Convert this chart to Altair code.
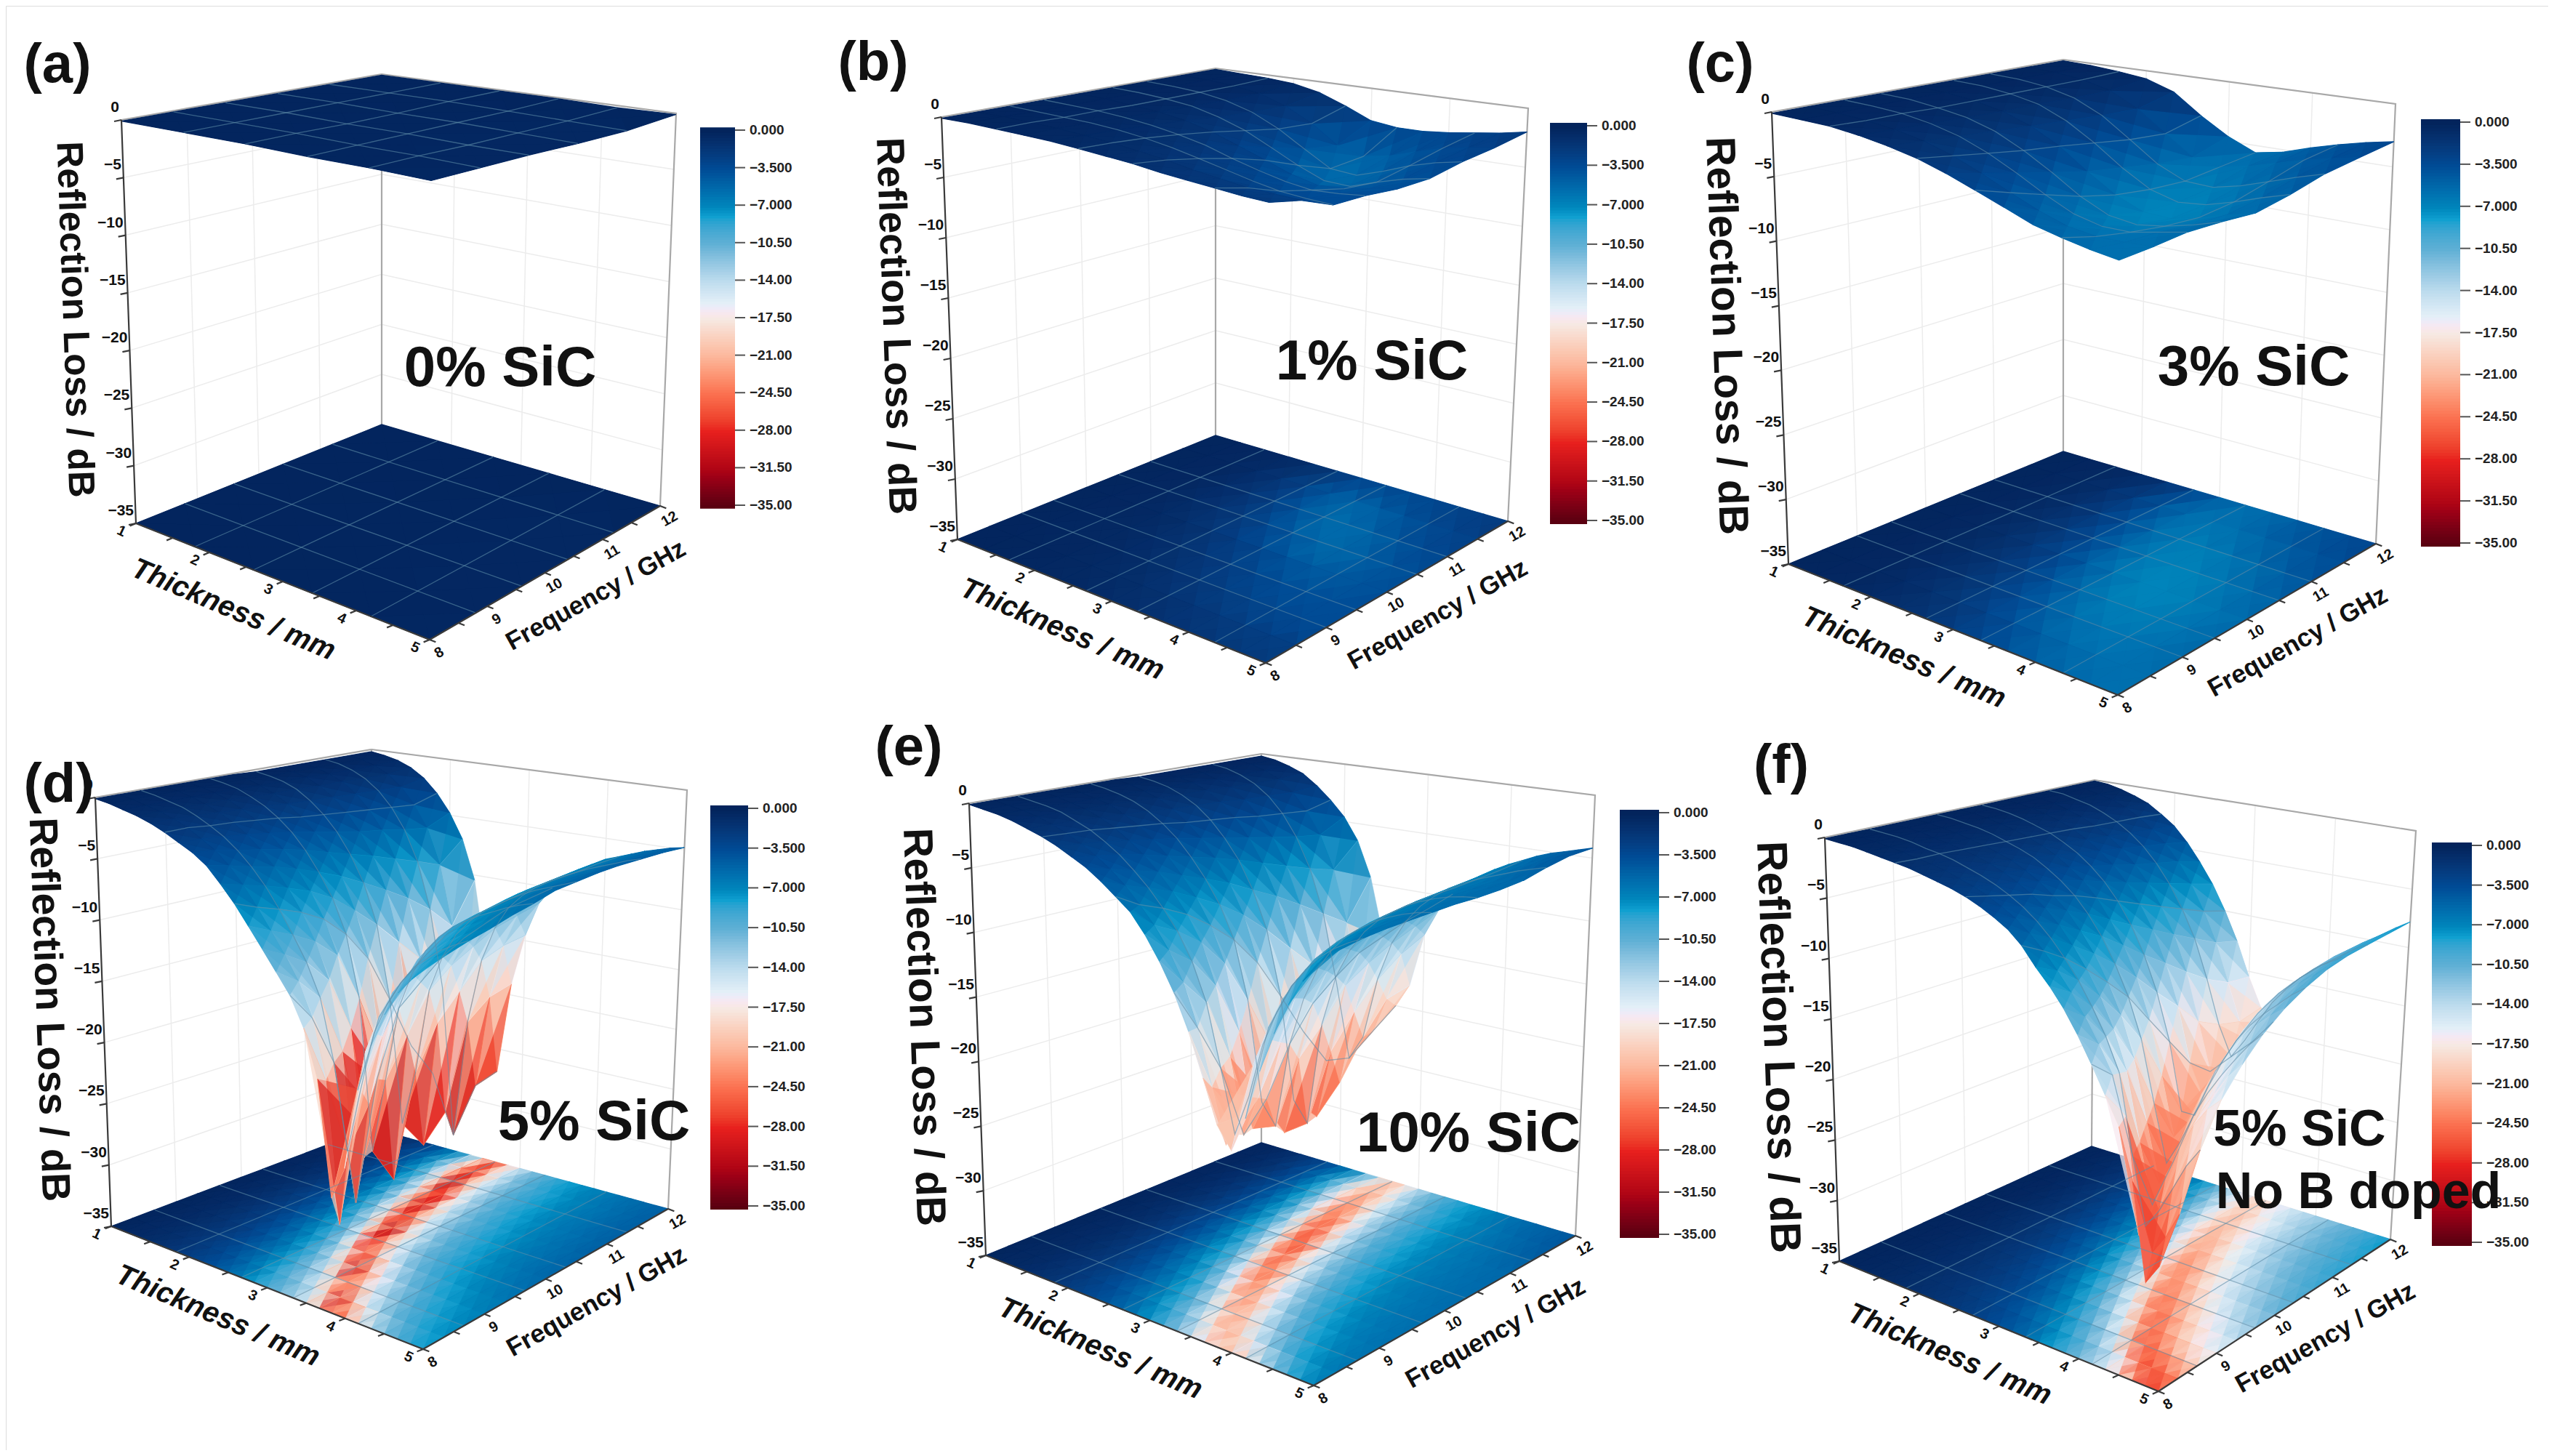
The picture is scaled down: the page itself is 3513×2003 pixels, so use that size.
import altair as alt

alt.data_transformers.disable_max_rows()

# ---------- values ----------
thickness_a = [1, 1.8, 2.6, 3.4, 4.2, 5]
freq_a = [8, 8.8, 9.6, 10.4, 11.2, 12]
RL_a = [
    [-0.1, -0.1, -0.1, -0.2, -0.2, -0.3],
    [-0.1, -0.1, -0.1, -0.2, -0.2, -0.3],
    [-0.1, -0.1, -0.2, -0.2, -0.3, -0.3],
    [-0.1, -0.1, -0.2, -0.2, -0.3, -0.4],
    [-0.1, -0.1, -0.1, -0.2, -0.3, -0.4],
    [-0.1, -0.1, -0.1, -0.1, -0.2, -0.1],
]

thickness_mid = [1, 1.333, 1.667, 2, 2.333, 2.667, 3, 3.333, 3.667, 4, 4.333, 4.667, 5]
freq_mid = [8, 8.5, 9, 9.5, 10, 10.5, 11, 11.5, 12]
RL_b = [
    [-0.1, -0.1, -0.2, -0.3, -0.4, -0.6, -0.8, -1.0, -1.3, -1.5, -1.7, -1.9, -2.0],
    [-0.1, -0.1, -0.2, -0.3, -0.5, -0.7, -1.0, -1.3, -1.7, -2.0, -2.3, -2.4, -2.5],
    [-0.1, -0.2, -0.3, -0.4, -0.6, -0.9, -1.3, -1.8, -2.3, -2.8, -3.2, -3.4, -3.5],
    [-0.1, -0.2, -0.3, -0.5, -0.8, -1.2, -1.7, -2.4, -3.0, -3.5, -3.8, -3.7, -3.5],
    [-0.1, -0.2, -0.4, -0.6, -1.0, -1.6, -2.4, -3.2, -4.0, -4.5, -4.4, -4.0, -3.7],
    [-0.1, -0.2, -0.4, -0.7, -1.3, -2.1, -3.2, -4.3, -5.2, -5.3, -4.6, -4.0, -3.6],
    [-0.1, -0.2, -0.4, -0.8, -1.5, -2.6, -4.0, -5.3, -5.5, -4.8, -4.0, -3.4, -3.0],
    [-0.1, -0.2, -0.4, -0.8, -1.6, -2.8, -4.4, -5.0, -4.6, -3.9, -3.3, -2.9, -2.6],
    [-0.1, -0.2, -0.3, -0.5, -1.0, -1.9, -2.9, -3.2, -3.2, -3.0, -2.7, -2.4, -2.0],
]
RL_c = [
    [-0.1, -0.2, -0.3, -0.6, -1.0, -1.5, -2.2, -3.0, -3.8, -4.6, -5.1, -5.5, -5.8],
    [-0.1, -0.2, -0.4, -0.7, -1.2, -1.9, -2.8, -3.8, -4.7, -5.4, -5.7, -5.7, -5.6],
    [-0.1, -0.2, -0.4, -0.8, -1.4, -2.3, -3.4, -4.6, -5.6, -6.1, -6.1, -5.7, -5.3],
    [-0.1, -0.2, -0.5, -0.9, -1.6, -2.7, -4.0, -5.4, -6.4, -6.7, -6.4, -5.9, -5.3],
    [-0.1, -0.2, -0.5, -1.0, -1.8, -3.0, -4.6, -6.0, -6.9, -7.0, -6.5, -5.9, -5.4],
    [-0.1, -0.2, -0.5, -1.0, -2.0, -3.4, -5.0, -6.3, -6.9, -6.7, -6.1, -5.4, -4.8],
    [-0.1, -0.2, -0.5, -1.1, -2.2, -3.8, -5.4, -6.4, -6.5, -6.0, -5.3, -4.6, -4.0],
    [-0.1, -0.2, -0.5, -1.1, -2.3, -4.0, -5.6, -6.0, -5.6, -5.0, -4.4, -3.9, -3.5],
    [-0.1, -0.2, -0.4, -0.7, -1.5, -3.2, -4.6, -5.6, -5.2, -4.5, -3.9, -3.4, -3.0],
]

thickness_fine = [1, 1.167, 1.333, 1.5, 1.667, 1.833, 2, 2.167, 2.333, 2.5, 2.667, 2.833, 3,
                  3.167, 3.333, 3.5, 3.667, 3.833, 4, 4.167, 4.333, 4.5, 4.667, 4.833, 5]
freq_fine = [8, 8.333, 8.667, 9, 9.333, 9.667, 10, 10.333, 10.667, 11, 11.333, 11.667, 12]
RL_d = [
    [-0.1,-0.3,-0.6,-0.9,-1.3, -1.8,-2.4,-3.0,-3.8,-5.0, -6.3,-7.8,-9.3,-10.8,-12.3, -14.5,-18.0,-26.5,-24.0,-18.0, -14.5,-12.0,-10.2,-9.0,-8.0],
    [-0.1,-0.3,-0.6,-0.9,-1.3, -1.8,-2.5,-3.2,-4.2,-5.5, -7.0,-8.6,-10.2,-12.0,-14.5, -19.0,-29.5,-21.0,-16.0,-13.2, -11.2,-9.8,-8.8,-8.0,-7.5],
    [-0.1,-0.3,-0.6,-0.9,-1.4, -2.0,-2.7,-3.6,-4.7,-6.0, -7.6,-9.4,-11.3,-13.8,-18.5, -25.0,-20.0,-15.5,-13.0,-11.2, -9.8,-8.9,-8.1,-7.5,-7.0],
    [-0.1,-0.3,-0.6,-1.0,-1.5, -2.1,-2.9,-3.9,-5.1,-6.6, -8.3,-10.4,-13.2,-18.5,-30.0, -22.0,-16.5,-13.3,-11.3,-9.9, -8.9,-8.1,-7.5,-7.0,-6.6],
    [-0.1,-0.3,-0.6,-1.0,-1.6, -2.3,-3.2,-4.3,-5.7,-7.3, -9.3,-12.0,-17.5,-27.5,-21.0, -16.0,-13.0,-11.0,-9.7,-8.7, -8.0,-7.4,-6.9,-6.5,-6.1],
    [-0.1,-0.3,-0.6,-1.1,-1.7, -2.5,-3.5,-4.8,-6.4,-8.3, -11.0,-16.0,-28.0,-22.0,-16.0, -13.0,-11.0,-9.7,-8.7,-8.0, -7.4,-6.9,-6.4,-6.0,-5.7],
    [-0.1,-0.3,-0.7,-1.2,-1.9, -2.8,-3.9,-5.4,-7.2,-9.8, -13.5,-21.0,-31.0,-19.0,-14.5, -12.0,-10.3,-9.2,-8.3,-7.6, -7.0,-6.5,-6.0,-5.6,-5.2],
    [-0.2,-0.4,-0.7,-1.2,-2.0, -3.0,-4.3,-6.0,-8.2,-11.5, -17.5,-27.5,-23.0,-16.0,-13.0, -11.0,-9.7,-8.7,-8.0,-7.3, -6.7,-6.2,-5.8,-5.4,-5.0],
    [-0.2,-0.4,-0.7,-1.3,-2.1, -3.2,-4.7,-6.6,-9.3,-13.5, -22.0,-30.0,-19.5,-14.5,-12.0, -10.3,-9.2,-8.3,-7.6,-7.0, -6.5,-6.0,-5.6,-5.2,-4.8],
    [-0.2,-0.4,-0.8,-1.3,-2.2, -3.4,-5.0,-7.3,-10.5,-15.5, -25.0,-28.0,-17.5,-13.5,-11.3, -9.8,-8.8,-8.0,-7.4,-6.8, -6.3,-5.9,-5.5,-5.1,-4.7],
    [-0.2,-0.4,-0.8,-1.4,-2.3, -3.6,-5.4,-8.0,-12.0,-18.5, -31.0,-21.0,-15.5,-12.5,-10.6, -9.4,-8.5,-7.8,-7.2,-6.7, -6.2,-5.8,-5.4,-5.0,-4.7],
    [-0.2,-0.4,-0.8,-1.4,-2.4, -3.8,-5.7,-8.8,-14.0,-21.5, -27.5,-19.5,-14.8,-12.0,-10.3, -9.1,-8.3,-7.6,-7.0,-6.5, -6.1,-5.7,-5.3,-5.0,-4.7],
    [-0.2,-0.4,-0.7,-1.2,-2.0, -3.2,-4.8,-7.0,-10.5,-17.5, -27.0,-19.0,-14.5,-11.5,-10.0, -8.8,-8.0,-7.4,-6.8,-6.4, -6.0,-5.6,-5.3,-5.0,-4.8],
]
RL_e = [
    [-0.1,-0.3,-0.5,-0.8,-1.2, -1.6,-2.1,-2.7,-3.3,-4.1, -5.0,-5.9,-7.3,-9.0,-11.0, -13.5,-16.5,-19.5,-21.0,-18.5, -15.0,-12.2,-10.0,-8.2,-6.8],
    [-0.1,-0.3,-0.5,-0.8,-1.2, -1.7,-2.3,-3.0,-3.8,-4.8, -6.0,-7.3,-8.9,-11.0,-14.0, -18.0,-21.8,-19.5,-15.5,-12.8, -10.6,-9.0,-7.8,-6.9,-6.3],
    [-0.1,-0.3,-0.5,-0.8,-1.3, -1.8,-2.5,-3.3,-4.3,-5.4, -6.7,-8.2,-10.2,-13.0,-17.5, -22.0,-19.0,-15.0,-12.4,-10.4, -9.0,-7.9,-7.1,-6.5,-6.0],
    [-0.1,-0.3,-0.6,-0.9,-1.4, -2.0,-2.8,-3.7,-4.8,-6.1, -7.6,-9.5,-12.5,-17.5,-23.0, -20.0,-15.5,-12.5,-10.5,-9.0, -8.0,-7.2,-6.6,-6.1,-5.8],
    [-0.1,-0.3,-0.6,-0.9,-1.5, -2.2,-3.1,-4.2,-5.5,-7.0, -8.9,-11.6,-16.5,-23.5,-21.0, -16.5,-13.0,-10.8,-9.2,-8.2, -7.4,-6.8,-6.3,-5.9,-5.7],
    [-0.1,-0.3,-0.6,-1.0,-1.6, -2.4,-3.4,-4.7,-6.2,-8.0, -10.5,-15.0,-22.5,-24.0,-17.5, -13.8,-11.3,-9.7,-8.5,-7.7, -7.0,-6.5,-6.1,-5.8,-5.6],
    [-0.1,-0.3,-0.7,-1.1,-1.8, -2.7,-3.8,-5.2,-7.0,-9.3, -12.8,-19.0,-25.5,-19.5,-15.0, -12.3,-10.3,-9.0,-8.0,-7.3, -6.7,-6.3,-6.0,-5.7,-5.5],
    [-0.2,-0.4,-0.7,-1.2,-1.9, -2.9,-4.2,-5.8,-8.0,-11.0, -16.0,-24.0,-25.5,-17.5,-13.5, -11.2,-9.6,-8.5,-7.7,-7.0, -6.5,-6.1,-5.8,-5.6,-5.5],
    [-0.2,-0.4,-0.7,-1.2,-2.0, -3.1,-4.6,-6.5,-9.0,-13.0, -19.5,-26.0,-20.5,-15.0,-12.2, -10.3,-9.0,-8.1,-7.4,-6.8, -6.3,-6.0,-5.7,-5.5,-5.4],
    [-0.2,-0.4,-0.8,-1.3,-2.2, -3.4,-5.0,-7.2,-10.2,-15.0, -22.5,-24.0,-18.0,-13.8,-11.5, -9.9,-8.8,-7.9,-7.2,-6.7, -6.2,-5.9,-5.6,-5.4,-5.2],
    [-0.2,-0.4,-0.8,-1.4,-2.3, -3.6,-5.4,-7.9,-11.5,-17.0, -23.0,-21.0,-16.0,-12.8,-10.8, -9.4,-8.4,-7.6,-7.0,-6.5, -6.1,-5.7,-5.3,-5.0,-4.7],
    [-0.2,-0.4,-0.8,-1.4,-2.4, -3.8,-5.7,-8.5,-12.8,-18.5, -21.5,-18.5,-14.5,-12.0,-10.3, -9.0,-8.1,-7.4,-6.8,-6.3, -5.8,-5.4,-5.0,-4.6,-4.3],
    [-0.2,-0.4,-0.8,-1.3,-2.2, -3.3,-4.6,-6.5,-9.5,-14.5, -20.0,-18.0,-13.5,-11.2,-9.7, -8.6,-7.8,-7.1,-6.5,-6.0, -5.5,-5.1,-4.8,-4.5,-4.2],
]
RL_f = [
    [-0.1,-0.2,-0.3,-0.5,-0.7, -0.9,-1.1,-1.4,-1.7,-2.0, -2.4,-2.9,-3.5,-4.2,-5.2, -6.6,-7.8,-9.2,-10.9,-12.8, -14.8,-16.8,-20.5,-27.5,-26.0],
    [-0.1,-0.2,-0.3,-0.5,-0.7, -1.0,-1.2,-1.5,-1.9,-2.3, -2.8,-3.4,-4.1,-5.0,-6.1, -7.4,-8.8,-10.4,-12.2,-14.2, -17.0,-25.5,-26.5,-25.0,-23.0],
    [-0.1,-0.2,-0.3,-0.5,-0.8, -1.0,-1.3,-1.7,-2.1,-2.6, -3.2,-3.9,-4.8,-5.9,-7.2, -8.7,-10.5,-12.5,-15.0,-21.0, -26.0,-24.5,-22.5,-20.5,-19.0],
    [-0.1,-0.2,-0.3,-0.6,-0.8, -1.1,-1.4,-1.8,-2.3,-2.9, -3.6,-4.5,-5.6,-7.0,-8.6, -10.5,-12.8,-15.8,-21.0,-25.5, -23.0,-20.5,-18.5,-17.0,-16.0],
    [-0.1,-0.2,-0.4,-0.6,-0.9, -1.2,-1.6,-2.0,-2.6,-3.3, -4.2,-5.2,-6.6,-8.2,-10.2, -12.6,-15.8,-20.5,-25.0,-23.0, -20.5,-18.5,-16.8,-15.2,-14.0],
    [-0.1,-0.2,-0.4,-0.6,-0.9, -1.3,-1.7,-2.2,-2.9,-3.7, -4.7,-6.0,-7.6,-9.6,-12.0, -15.2,-20.0,-24.5,-22.5,-20.0, -18.0,-16.3,-14.8,-13.4,-12.3],
    [-0.1,-0.2,-0.4,-0.7,-1.0, -1.4,-1.9,-2.5,-3.3,-4.2, -5.4,-7.0,-8.9,-11.3,-14.5, -18.8,-23.5,-22.0,-19.5,-17.3, -15.5,-14.0,-12.8,-11.8,-11.0],
    [-0.1,-0.2,-0.4,-0.7,-1.1, -1.5,-2.1,-2.8,-3.7,-4.8, -6.2,-8.0,-10.3,-13.2,-17.0, -22.5,-22.5,-19.8,-17.5,-15.5, -14.0,-12.8,-11.8,-10.8,-10.0],
    [-0.1,-0.2,-0.4,-0.7,-1.1, -1.6,-2.3,-3.1,-4.1,-5.4, -7.0,-9.0,-11.6,-15.0,-19.5, -22.0,-19.8,-17.5,-15.6,-14.0, -12.8,-11.7,-10.8,-10.0,-9.2],
    [-0.1,-0.2,-0.4,-0.8,-1.2, -1.8,-2.5,-3.4,-4.6,-6.0, -7.8,-10.0,-13.0,-17.0,-21.0, -20.5,-18.0,-16.0,-14.3,-13.0, -11.9,-11.0,-10.2,-9.4,-8.7],
    [-0.1,-0.2,-0.5,-0.8,-1.3, -1.9,-2.7,-3.7,-5.0,-6.6, -8.6,-11.0,-14.3,-18.0,-20.5, -18.8,-16.8,-15.0,-13.6,-12.4, -11.4,-10.6,-9.8,-9.0,-8.4],
    [-0.1,-0.2,-0.5,-0.8,-1.3, -2.0,-2.9,-4.0,-5.4,-7.2, -9.4,-12.0,-15.3,-18.5,-20.0, -17.6,-15.8,-14.3,-13.0,-12.0, -11.0,-10.2,-9.4,-8.7,-8.1],
    [-0.1,-0.2,-0.5,-0.9,-1.4, -2.2,-3.1,-4.4,-6.0,-7.8, -10.0,-12.5,-15.5,-18.0,-19.0, -16.5,-15.0,-13.8,-13.0,-12.0, -11.0,-10.2,-9.3,-8.5,-7.8],
]

legend_values = [0, -3.5, -7, -10.5, -14, -17.5, -21, -24.5, -28, -31.5, -35]
legend_labels = ["0.000", "\u22123.500", "\u22127.000", "\u221210.50", "\u221214.00", "\u221217.50",
                 "\u221221.00", "\u221224.50", "\u221228.00", "\u221231.50", "\u221235.00"]
z_ticks = [0, -5, -10, -15, -20, -25, -30, -35]
z_labels = ["0", "\u22125", "\u221210", "\u221215", "\u221220", "\u221225", "\u221230", "\u221235"]
t_ticks = [1, 2, 3, 4, 5]
f_ticks = [8, 9, 10, 11, 12]
mesh_t = [1.8, 2.6, 3.4, 4.2]
mesh_f = [8.8, 9.6, 10.4, 11.2]

color_domain = [-35, -31.5, -28, -24.5, -21, -17.5, -16, -14, -10.5, -8, -7, -3.5, 0]
color_range = ["#5a0010", "#b00515", "#e8201e", "#fb7050", "#fcb79c", "#f6e9e3", "#e3eff7",
               "#bddcee", "#5fb0d5", "#10a0d0", "#0085bb", "#004b95", "#03245c"]

# ---------- layout of each panel (page pixels) ----------
panels = {
    "a": dict(T=thickness_a, F=freq_a, RL=RL_a,
              top=[(167,165),(593,243),(930,156),(525,102)], floor=[(187,720),(591,880),(908,696),(525,584)],
              bar=(963,1011,179,695), letter=("(a)",79,90), notes=[("0% SiC",688,508,78)], ysize=51),
    "b": dict(T=thickness_mid, F=freq_mid, RL=RL_b,
              top=[(1295,161),(1746,240),(2102,149),(1672,94)], floor=[(1317,742),(1741,912),(2074,717),(1672,599)],
              bar=(2132,2183,173,716), letter=("(b)",1201,87), notes=[("1% SiC",1887,499,78)], ysize=54),
    "c": dict(T=thickness_mid, F=freq_mid, RL=RL_c,
              top=[(2437,154),(2915,239),(3295,143),(2838,82)], floor=[(2460,776),(2913,956),(3268,748),(2838,621)],
              bar=(3330,3384,168,747), letter=("(c)",2366,89), notes=[("3% SiC",3100,507,78)], ysize=57),
    "d": dict(T=thickness_fine, F=freq_fine, RL=RL_d,
              top=[(131,1097),(586,1177),(945,1087),(511,1031)], floor=[(153,1687),(582,1856),(919,1663),(511,1552)],
              bar=(977,1029,1112,1659), letter=("(d)",81,1080), notes=[("5% SiC",817,1545,78)], ysize=55),
    "e": dict(T=thickness_fine, F=freq_fine, RL=RL_e,
              top=[(1333,1105),(1813,1186),(2194,1094),(1735,1037)], floor=[(1356,1727),(1807,1906),(2167,1700),(1735,1572)],
              bar=(2228,2282,1118,1698), letter=("(e)",1250,1029), notes=[("10% SiC",2020,1561,78)], ysize=57),
    "f": dict(T=thickness_fine, F=freq_fine, RL=RL_f,
              top=[(2510,1152),(2973,1246),(3323,1143),(2881,1073)], floor=[(2530,1735),(2969,1914),(3288,1705),(2877,1577)],
              bar=(3345,3400,1163,1709), letter=("(f)",2450,1054),
              notes=[("5% SiC",3163,1555,70),("No B doped",3244,1641,70)], ysize=59),
}

def bil(c, u, v):
    return tuple((1-u)*(1-v)*c[0][i] + u*(1-v)*c[1][i] + u*v*c[2][i] + (1-u)*v*c[3][i] for i in range(2))

def P(p, t, f, rl):
    u, v, w = (t-1)/4, (f-8)/4, -rl/35
    a, b = bil(p["top"], u, v), bil(p["floor"], u, v)
    return (round(a[0]*(1-w)+b[0]*w, 1), round(a[1]*(1-w)+b[1]*w, 1))

floor_feats, surf_feats = [], []
grid_l, edge_l, dark_l, mesh_l = [], [], [], []
bold_t, italic_t, right_t, leg_t, rects, leg_ticks = [], [], [], [], [], []
lid = 0

def add(lst, pts):
    global lid
    lid += 1
    for i, (x, y) in enumerate(pts):
        lst.append({"id": lid, "i": i, "x": x, "y": y})

def poly(pts, val, opacity, sw):
    ring = pts + [pts[0]]
    return {"type": "Feature", "geometry": {"type": "Polygon", "coordinates": [[list(q) for q in ring]]},
            "properties": {"RL": val, "o": opacity, "sw": sw}}

def shade(out, pts, vals):
    # one cell: flat base, then each corner's own read value laid over its half of the cell
    out.append(poly(pts, round(sum(vals)/4, 2), 1, 1.2))
    for k in range(4):
        out.append(poly([pts[k], pts[(k+1) % 4], pts[(k+3) % 4]], vals[k], 0.5, 0))

def nearest(seq, v):
    return min(range(len(seq)), key=lambda k: abs(seq[k]-v))

for key, p in panels.items():
    T, F, RL = p["T"], p["F"], p["RL"]
    L0, Fr, R0, B0 = p["floor"]
    LT, FT, RT, BT = p["top"]
    # walls
    for z in z_ticks:
        add(grid_l, [P(p,1,8,z), P(p,1,12,z), P(p,5,12,z)])
    for f in f_ticks[1:-1]:
        add(grid_l, [P(p,1,f,0), P(p,1,f,-35)])
    for t in t_ticks[1:-1]:
        add(grid_l, [P(p,t,12,0), P(p,t,12,-35)])
    add(edge_l, [LT, BT, RT, R0])
    add(edge_l, [BT, B0])
    # surface and its floor projection, far cells first
    for fi in range(len(F)-2, -1, -1):
        for ti in range(len(T)-1):
            cell = [(T[ti],F[fi],RL[fi][ti]), (T[ti+1],F[fi],RL[fi][ti+1]),
                    (T[ti+1],F[fi+1],RL[fi+1][ti+1]), (T[ti],F[fi+1],RL[fi+1][ti])]
            vals = [c[2] for c in cell]
            shade(floor_feats, [P(p,c[0],c[1],-35) for c in cell], vals)
            shade(surf_feats, [P(p,c[0],c[1],c[2]) for c in cell], vals)
    # mesh lines on surface and floor
    for mt in mesh_t:
        k = nearest(T, mt)
        add(mesh_l, [P(p,T[k],F[j],RL[j][k]) for j in range(len(F))])
        add(mesh_l, [P(p,T[k],8,-35), P(p,T[k],12,-35)])
    for mf in mesh_f:
        k = nearest(F, mf)
        add(mesh_l, [P(p,T[j],F[k],RL[k][j]) for j in range(len(T))])
        add(mesh_l, [P(p,1,F[k],-35), P(p,5,F[k],-35)])
    # axes
    add(dark_l, [LT, L0, Fr, R0])
    for z, lab in zip(z_ticks, z_labels):
        x, y = P(p,1,8,z)
        add(dark_l, [(x,y), (x-10,y+2)])
        right_t.append({"label": lab, "x": x-3, "y": y-17, "size": 21, "angle": 0})
    dt = (L0[0]-B0[0], L0[1]-B0[1]); nt = (dt[0]**2+dt[1]**2)**.5
    df = (Fr[0]-L0[0], Fr[1]-L0[1]); nf = (df[0]**2+df[1]**2)**.5
    for s in [1,1.5,2,2.5,3,3.5,4,4.5,5]:
        x, y = P(p,s,8,-35)
        add(dark_l, [(x,y), (x+dt[0]/nt*9, y+dt[1]/nt*9)])
    for s in [8,8.5,9,9.5,10,10.5,11,11.5,12]:
        x, y = P(p,5,s,-35)
        add(dark_l, [(x,y), (x+df[0]/nf*9, y+df[1]/nf*9)])
    for s in t_ticks:
        x, y = P(p,s,8,-35)
        bold_t.append({"label": str(s), "x": x-20, "y": y+11, "size": 20, "angle": 25})
    for s in f_ticks:
        x, y = P(p,5,s,-35)
        bold_t.append({"label": str(s), "x": x+13, "y": y+18, "size": 20, "angle": 330})
    # axis titles
    bold_t.append({"label": "Reflection Loss / dB", "x": (LT[0]+L0[0])/2-75, "y": (LT[1]+L0[1])/2-3,
                   "size": p["ysize"], "angle": 88})
    italic_t.append({"label": "Thickness / mm", "x": (L0[0]+Fr[0])/2-68, "y": (L0[1]+Fr[1])/2+39,
                     "size": 40, "angle": 23})
    bold_t.append({"label": "Frequency / GHz", "x": (Fr[0]+R0[0])/2+70, "y": (Fr[1]+R0[1])/2+31,
                   "size": 35, "angle": 331})
    # annotations
    bold_t.append({"label": p["letter"][0], "x": p["letter"][1], "y": p["letter"][2], "size": 76, "angle": 0})
    for lab, x, y, s in p["notes"]:
        bold_t.append({"label": lab, "x": x, "y": y, "size": s, "angle": 0})
    # colour bar
    x0, x1, y0, y1 = p["bar"]
    step = (y1-y0)/140
    for n in range(-1, 141):
        v = max(-35, min(0, -n*0.25))
        rects.append({"x": x0, "x2": x1, "y": round(y0+n*step, 1), "y2": round(y0+(n+1)*step+1, 1), "v": v})
    for v, lab in zip(legend_values, legend_labels):
        y = y0 + (y1-y0)*(-v/35)
        add(leg_ticks, [(x1, y), (x1+14, y)])
        leg_t.append({"label": lab, "x": x1+20, "y": y, "size": 19, "angle": 0})

# ---------- chart ----------
xs = alt.Scale(domain=[8, 3505], nice=False, zero=False)
ys = alt.Scale(domain=[1995, 8], nice=False, zero=False)
cs = alt.Scale(domain=color_domain, range=color_range, clamp=True)
X = alt.X("x:Q", scale=xs, axis=None)
Y = alt.Y("y:Q", scale=ys, axis=None)

def lines(data, color, width, opacity=1):
    return alt.Chart(alt.Data(values=data)).mark_line(color=color, strokeWidth=width, opacity=opacity).encode(
        x=X, y=Y, detail="id:N", order="i:Q")

def shapes(feats):
    return alt.Chart(alt.Data(values=feats)).mark_geoshape().encode(
        color=alt.Color("properties.RL:Q", scale=cs, legend=None),
        stroke=alt.Stroke("properties.RL:Q", scale=cs, legend=None),
        opacity=alt.Opacity("properties.o:Q", scale=None),
        strokeWidth=alt.StrokeWidth("properties.sw:Q", scale=None),
    ).project(type="identity", scale=1, translate=[-8, -8])

def texts(data, align="center", style="normal", weight="bold", color="#111"):
    return alt.Chart(alt.Data(values=data)).mark_text(
        align=align, baseline="middle", font="Liberation Sans", fontWeight=weight, fontStyle=style, color=color
    ).encode(x=X, y=Y, text="label:N", size=alt.Size("size:Q", scale=None),
             angle=alt.Angle("angle:Q", scale=None))

bars = alt.Chart(alt.Data(values=rects)).mark_rect().encode(
    x=X, x2="x2:Q", y=Y, y2="y2:Q", color=alt.Color("v:Q", scale=cs, legend=None))

chart = alt.layer(
    lines(grid_l, "#ececec", 1.5),
    lines(edge_l, "#a8a8a8", 2.2),
    shapes(floor_feats),
    shapes(surf_feats),
    lines(mesh_l, "#5f8da8", 1.3, 0.6),
    lines(dark_l, "#3a3a3a", 2.2),
    bars,
    lines(leg_ticks, "#555555", 2),
    texts(right_t, align="right"),
    texts(leg_t, align="left", color="#222"),
    texts(italic_t, style="italic"),
    texts(bold_t),
).properties(width=3497, height=1987, padding=0, autosize=alt.AutoSizeParams(type="none")
).configure_view(stroke=None).configure(background="white")

chart.save("out.html", embed_options={"renderer": "svg", "actions": False})
